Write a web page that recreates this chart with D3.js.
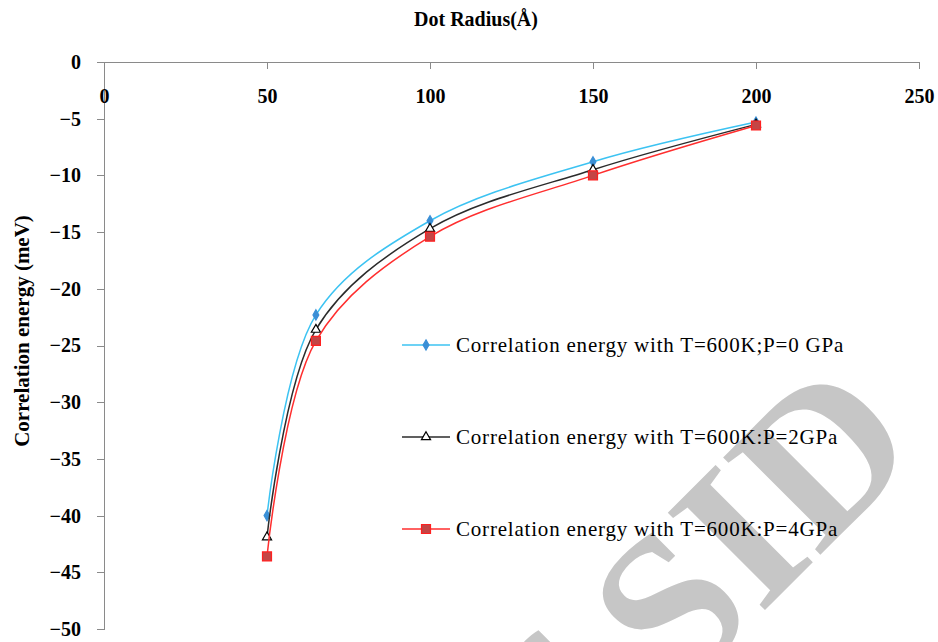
<!DOCTYPE html>
<html>
<head>
<meta charset="utf-8" />
<style>
body { margin: 0; background: #fff; }
svg { display: block; }
text { font-family: "Liberation Serif", "Times New Roman", Times, "DejaVu Serif", serif; }
.axis path, .axis line { fill: none; stroke: #8a8a8a; shape-rendering: crispEdges; }
.axis text { font-family: "Liberation Serif", "Times New Roman", Times, "DejaVu Serif", serif; font-weight: bold; font-size: 20px; fill: #000; }
</style>
<script src="https://cdnjs.cloudflare.com/ajax/libs/d3/7.8.5/d3.min.js"></script>
</head>
<body>
<div id="chart"></div>
<script>
// values
var radius = [50, 65, 100, 150, 200];
var energyP0 = [-40.0, -22.3, -14.0, -8.8, -5.3];
var energyP2 = [-41.9, -23.6, -14.7, -9.5, -5.5];
var energyP4 = [-43.6, -24.6, -15.4, -10.0, -5.6];
var seriesNames = [
  "Correlation energy with T=600K;P=0 GPa",
  "Correlation energy with T=600K:P=2GPa",
  "Correlation energy with T=600K:P=4GPa"
];
var xTicks = [0, 50, 100, 150, 200, 250];
var yTicks = [0, -5, -10, -15, -20, -25, -30, -35, -40, -45, -50];

var W = 938, H = 642;
var margin = { top: 62, left: 104, right: 19, bottom: 13 };
var width = W - margin.left - margin.right,
    height = H - margin.top - margin.bottom;

var svg = d3.select("#chart").append("svg")
  .attr("width", W).attr("height", H);

// watermark stamp, behind everything
svg.append("text")
  .attr("transform", "translate(925,450)rotate(-45)")
  .attr("text-anchor", "end")
  .style("font-weight", "bold")
  .style("font-size", "210px")
  .attr("fill", "#c6c6c6")
  .text("of SID");

var g = svg.append("g")
  .attr("transform", "translate(" + margin.left + "," + margin.top + ")");

var x = d3.scaleLinear().domain([0, 250]).range([0, width]);
var y = d3.scaleLinear().domain([0, -50]).range([0, height]);

// axes: x axis sits on top at y=0, labels pushed below the line
var xAxis = d3.axisBottom(x).tickValues(xTicks).tickSize(7).tickPadding(20);
var yAxis = d3.axisLeft(y).tickValues(yTicks).tickSize(7).tickPadding(16);

g.append("g").attr("class", "axis").call(yAxis)
  .select(".domain").attr("d", "M0.5,0V" + height + "M-7," + height + "H0.5");
g.append("g").attr("class", "axis").call(xAxis)
  .select(".domain").attr("d", "M-7,0.5H" + width + "V7");

// axis titles
svg.append("text")
  .attr("x", 476).attr("y", 26)
  .attr("text-anchor", "middle")
  .style("font-weight", "bold").style("font-size", "20px")
  .text("Dot Radius(Å)");

svg.append("text")
  .attr("transform", "translate(29,331)rotate(-90)")
  .attr("text-anchor", "middle")
  .style("font-weight", "bold").style("font-size", "21px")
  .text("Correlation energy (meV)");

var series = [
  { name: seriesNames[0], values: energyP0, line: "#3cc3f2", fill: "#3a8fd6", stroke: "#3a8fd6", shape: d3.symbolDiamond, size: 30 },
  { name: seriesNames[1], values: energyP2, line: "#2b2b2b", fill: "#fff", stroke: "#000", shape: d3.symbolTriangle, size: 36 },
  { name: seriesNames[2], values: energyP4, line: "#ff2e2e", fill: "#c44545", stroke: "#ff2020", shape: d3.symbolSquare, size: 81 }
];

var line = d3.line()
  .x(function(d) { return x(d[0]); })
  .y(function(d) { return y(d[1]); })
  .curve(d3.curveCatmullRom.alpha(0.5));

series.forEach(function(s) {
  var pts = radius.map(function(r, i) { return [r, s.values[i]]; });
  g.append("path")
    .attr("d", line(pts))
    .attr("fill", "none")
    .attr("stroke", s.line)
    .attr("stroke-width", 1.5);
  g.selectAll(null).data(pts).enter().append("path")
    .attr("transform", function(d) { return "translate(" + x(d[0]) + "," + y(d[1]) + ")"; })
    .attr("d", d3.symbol().type(s.shape).size(s.size))
    .attr("fill", s.fill)
    .attr("stroke", s.stroke)
    .attr("stroke-width", 1.2);
});

// legend
var legend = svg.selectAll(".legend").data(series).enter().append("g")
  .attr("class", "legend")
  .attr("transform", function(d, i) { return "translate(402," + (345 + i * 92) + ")"; });

legend.append("line")
  .attr("x1", 0).attr("x2", 48)
  .attr("stroke", function(d) { return d.line; })
  .attr("stroke-width", 1.5);
legend.append("path")
  .attr("transform", "translate(24,0)")
  .attr("d", function(d) { return d3.symbol().type(d.shape).size(d.size)(); })
  .attr("fill", function(d) { return d.fill; })
  .attr("stroke", function(d) { return d.stroke; })
  .attr("stroke-width", 1.2);
legend.append("text")
  .attr("x", 54).attr("y", 7)
  .style("font-size", "21px")
  .style("letter-spacing", "0.8px")
  .text(function(d) { return d.name; });
</script>
</body>
</html>
